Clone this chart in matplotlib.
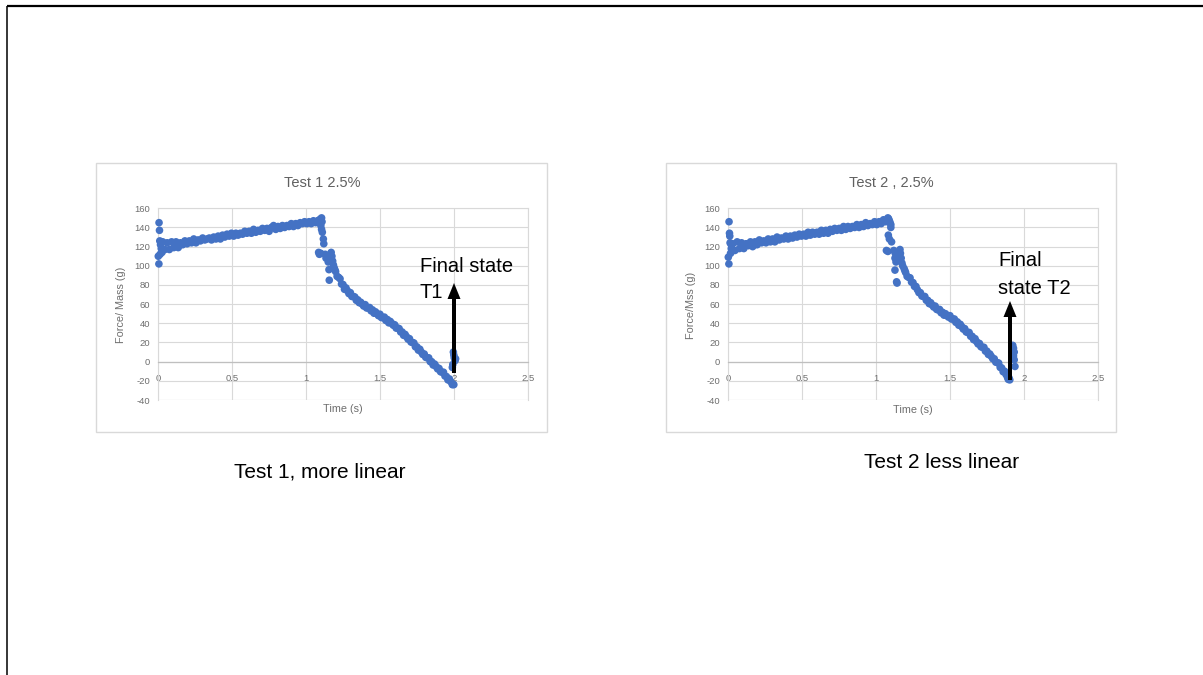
import matplotlib
matplotlib.use("Agg")
import matplotlib.pyplot as plt
from matplotlib.patches import Rectangle, FancyArrow

plt.rcParams["font.family"] = ["Liberation Sans", "DejaVu Sans"]
plt.rcParams["axes.unicode_minus"] = False

# ---------------- data ----------------
test1_time = [
    0.0, 0.004, 0.005, 0.008, 0.01, 0.012, 0.015, 0.02, 0.02, 0.025,
    0.030, 0.045, 0.060, 0.075, 0.090, 0.105, 0.120, 0.135, 0.150, 0.165,
    0.180, 0.195, 0.210, 0.225, 0.240, 0.255, 0.270, 0.285, 0.300, 0.315,
    0.330, 0.345, 0.360, 0.375, 0.390, 0.405, 0.420, 0.435, 0.450, 0.465,
    0.480, 0.495, 0.510, 0.525, 0.540, 0.555, 0.570, 0.585, 0.600, 0.615,
    0.630, 0.645, 0.660, 0.675, 0.690, 0.705, 0.720, 0.735, 0.750, 0.765,
    0.780, 0.795, 0.810, 0.825, 0.840, 0.855, 0.870, 0.885, 0.900, 0.915,
    0.930, 0.945, 0.960, 0.975, 0.990, 1.005, 1.020, 1.035, 1.050, 1.065,
    1.080,
    1.085, 1.09, 1.095, 1.10, 1.105, 1.108, 1.10, 1.105, 1.11, 1.085,
    1.09, 1.10, 1.117, 1.12, 1.13, 1.135, 1.14, 1.15, 1.155, 1.157,
    1.16, 1.17, 1.175, 1.18, 1.185, 1.19, 1.195,
    1.20, 1.21, 1.22, 1.23, 1.24, 1.25, 1.26, 1.27, 1.28, 1.29,
    1.30, 1.31, 1.32, 1.33, 1.34, 1.35, 1.36, 1.37, 1.38, 1.39,
    1.40, 1.41, 1.42, 1.43, 1.44, 1.45, 1.46, 1.47, 1.48, 1.49,
    1.50, 1.51, 1.52, 1.53, 1.54, 1.55, 1.56, 1.57, 1.58, 1.59,
    1.60, 1.61, 1.62, 1.63, 1.64, 1.65, 1.66, 1.67, 1.68, 1.69,
    1.70, 1.71, 1.72, 1.73, 1.74, 1.75, 1.76, 1.77, 1.78, 1.79,
    1.80, 1.81, 1.82, 1.83, 1.84, 1.85, 1.86, 1.87, 1.88, 1.89,
    1.90, 1.91, 1.92, 1.93, 1.94, 1.95, 1.96, 1.97, 1.98, 1.99,
    1.995, 2.0, 1.99, 1.993, 1.997, 2.0, 2.003, 2.008, 2.012,
]
test1_force = [
    110, 102, 145, 137, 126, 112, 122, 118, 125, 114,
    125, 117, 124, 117, 125, 119, 125, 119, 124, 122,
    126, 123, 126, 124, 128, 124, 127, 126, 129, 127,
    128, 129, 127, 130, 128, 131, 128, 132, 130, 133,
    131, 134, 131, 134, 132, 134, 133, 136, 134, 136,
    134, 138, 135, 137, 136, 139, 137, 139, 136, 140,
    142, 138, 141, 139, 142, 140, 142, 141, 144, 141,
    144, 142, 145, 144, 146, 144, 146, 144, 147, 145,
    147,
    147, 148, 147, 149, 150, 146, 142, 138, 135, 114,
    112, 113, 128, 123, 112, 108, 110, 104, 96, 85,
    108, 114, 110, 105, 101, 98, 96,
    94, 89, 88, 86.5, 81, 80.5, 75.5, 77, 74, 71,
    72, 68, 68, 67.5, 64, 64.5, 61.5, 62, 60, 58,
    59.5, 56, 56, 56.5, 53, 54, 50.5, 52, 50, 48,
    49.5, 46, 46, 46.5, 43, 44, 40.5, 42, 40, 38,
    38.5, 35, 35, 34.5, 31, 31, 27.5, 28.5, 26, 23.5,
    24, 20.5, 20, 19.5, 15.5, 15.5, 12, 13, 10, 7.5,
    8, 4.5, 4, 4, 0, 0, -3.5, -2.5, -5, -7.5,
    -7, -10.5, -11, -11, -15, -15.5, -19, -18, -21, -24,
    -23.5, -24, -6, -3, 10, 7, 4, 1, 3,
]

test2_time = [
    0.0, 0.004, 0.005, 0.008, 0.01, 0.012, 0.015, 0.02, 0.02, 0.025,
    0.030, 0.045, 0.060, 0.075, 0.090, 0.105, 0.120, 0.135, 0.150, 0.165,
    0.180, 0.195, 0.210, 0.225, 0.240, 0.255, 0.270, 0.285, 0.300, 0.315,
    0.330, 0.345, 0.360, 0.375, 0.390, 0.405, 0.420, 0.435, 0.450, 0.465,
    0.480, 0.495, 0.510, 0.525, 0.540, 0.555, 0.570, 0.585, 0.600, 0.615,
    0.630, 0.645, 0.660, 0.675, 0.690, 0.705, 0.720, 0.735, 0.750, 0.765,
    0.780, 0.795, 0.810, 0.825, 0.840, 0.855, 0.870, 0.885, 0.900, 0.915,
    0.930, 0.945, 0.960, 0.975, 0.990, 1.005, 1.020, 1.035, 1.050, 1.065,
    1.075, 1.08, 1.085, 1.09, 1.095, 1.10, 1.10, 1.083, 1.09, 1.105,
    1.07, 1.08, 1.12, 1.13, 1.128, 1.135, 1.14, 1.15, 1.162, 1.165,
    1.17, 1.175, 1.128, 1.139, 1.142, 1.18, 1.19, 1.195,
    1.20, 1.21, 1.22, 1.23, 1.24, 1.25, 1.26, 1.27, 1.28, 1.29,
    1.30, 1.31, 1.32, 1.33, 1.34, 1.35, 1.36, 1.37, 1.38, 1.39,
    1.40, 1.41, 1.42, 1.43, 1.44, 1.45, 1.46, 1.47, 1.48, 1.49,
    1.50, 1.51, 1.52, 1.53, 1.54, 1.55, 1.56, 1.57, 1.58, 1.59,
    1.60, 1.61, 1.62, 1.63, 1.64, 1.65, 1.66, 1.67, 1.68, 1.69,
    1.70, 1.71, 1.72, 1.73, 1.74, 1.75, 1.76, 1.77, 1.78, 1.79,
    1.80, 1.81, 1.82, 1.83, 1.84, 1.85, 1.86, 1.87, 1.88, 1.89,
    1.90, 1.905, 1.895,
    1.925, 1.93, 1.935, 1.93, 1.935, 1.94,
]
test2_force = [
    109, 102, 146, 134, 131, 124, 113, 118, 122, 116,
    123, 116, 125, 118, 124, 118, 123, 121, 125, 120,
    125, 122, 127, 124, 126, 124, 128, 125, 128, 125,
    130, 127, 129, 128, 131, 128, 131, 129, 132, 130,
    133, 131, 133, 131, 135, 132, 135, 133, 135, 133,
    137, 134, 137, 134, 138, 136, 139, 137, 139, 137,
    141, 138, 141, 139, 141, 140, 143, 140, 143, 141,
    145, 142, 144, 143, 146, 143, 146, 144, 148, 146,
    148, 150, 149, 147, 145, 143, 140, 132, 128, 125,
    116, 115, 116, 113, 108, 104, 110, 112, 117, 113,
    108, 103, 95.5, 83.3, 82, 100, 97, 95,
    93, 89, 88, 87.5, 83, 82.5, 78.5, 78.5, 75, 72,
    72, 68.5, 68, 68, 64, 64, 60.5, 61.5, 59, 57,
    58, 54.5, 54, 54.5, 51, 51.5, 48.5, 50, 48, 46.5,
    48, 44.5, 44.5, 44.5, 41, 41.5, 38, 39, 36.5, 34,
    34.5, 31, 30.5, 30.5, 26.5, 26.5, 23, 24, 21, 18.5,
    19, 15.5, 15, 15, 11, 11, 7.5, 8, 5.5, 3,
    3, -0.5, -1, -1.5, -6, -6.5, -10.5, -10, -13.5, -16.5,
    -17, -19, -18.5,
    17, 14, 10, 6, 2, -5,
]

x_ticks = [0, 0.5, 1, 1.5, 2, 2.5]
x_tick_labels = ["0", "0.5", "1", "1.5", "2", "2.5"]
y_ticks = [-40, -20, 0, 20, 40, 60, 80, 100, 120, 140, 160]

chart_titles = ["Test 1 2.5%", "Test 2 , 2.5%"]
y_titles = ["Force/ Mass (g)", "Force/Mss (g)"]
x_title = "Time (s)"
captions = ["Test 1, more linear", "Test 2 less linear"]
notes = [["Final state", "T1"], ["Final", "state T2"]]

# ---------------- layout (pixels) ----------------
W, H = 1203, 675
BLUE = "#4472C4"
GRID = "#D9D9D9"
GREY_TXT = "#6E6E6E"

fig = plt.figure(figsize=(W / 100, H / 100), dpi=100)
fig.patch.set_facecolor("white")


def px_axes(x0, y0, x1, y1, **kw):
    return fig.add_axes([x0 / W, 1 - y1 / H, (x1 - x0) / W, (y1 - y0) / H], **kw)


charts = [
    dict(plot=(158.3, 208.3, 527.7, 400.0), frame=(96, 163, 547, 432),
         title_xy=(322, 183), ytitle_xy=(121, 305), xtitle_xy=(343, 409),
         data=(test1_time, test1_force)),
    dict(plot=(728.3, 208.3, 1097.7, 400.0), frame=(666, 163, 1116, 432),
         title_xy=(891, 183), ytitle_xy=(691, 305), xtitle_xy=(913, 410),
         data=(test2_time, test2_force)),
]

for ch in charts:
    ax = px_axes(*ch["plot"])
    ax.set_xlim(0, 2.5)
    ax.set_ylim(-40, 160)
    ax.set_xticks(x_ticks)
    ax.set_xticklabels(x_tick_labels)
    ax.set_yticks(y_ticks)
    ax.grid(True, color=GRID, lw=0.8)
    ax.set_axisbelow(True)
    for side in ("top", "right", "left"):
        ax.spines[side].set_color(GRID)
        ax.spines[side].set_linewidth(0.8)
    ax.spines["bottom"].set_position(("data", 0))
    ax.spines["bottom"].set_color("#BFBFBF")
    ax.spines["bottom"].set_linewidth(0.9)
    ax.axhline(-40, color=GRID, lw=0.8, zorder=0)
    ax.tick_params(axis="both", length=0, labelsize=6.8, labelcolor=GREY_TXT)
    ax.tick_params(axis="y", pad=6)
    ax.tick_params(axis="x", pad=9)
    t, f = ch["data"]
    ax.scatter(t, f, s=30, color=BLUE, edgecolors="none", zorder=3, clip_on=False)

# slide-level overlay (pixel coordinates, y downwards)
ov = fig.add_axes([0, 0, 1, 1], zorder=10)
ov.set_xlim(0, W)
ov.set_ylim(H, 0)
ov.axis("off")
ov.patch.set_alpha(0)

# slide border
ov.plot([7, W], [6, 6], color="black", lw=1.6, solid_capstyle="butt")
ov.plot([7, 7], [6, H], color="black", lw=1.1, solid_capstyle="butt")

for i, ch in enumerate(charts):
    x0, y0, x1, y1 = ch["frame"]
    ov.add_patch(Rectangle((x0, y0), x1 - x0, y1 - y0, fill=False,
                           edgecolor=GRID, lw=1.0))
    ov.text(*ch["title_xy"], chart_titles[i], ha="center", va="center",
            fontsize=10.5, color="#606060")
    ov.text(*ch["ytitle_xy"], y_titles[i], ha="center", va="center",
            rotation=90, fontsize=7.8, color=GREY_TXT)
    ov.text(*ch["xtitle_xy"], x_title, ha="center", va="center",
            fontsize=7.8, color=GREY_TXT)

# annotations
note_pos = [((420, 266), (420, 293)), ((998, 260), (998, 288))]
for lines, pos in zip(notes, note_pos):
    for txt, (x, y) in zip(lines, pos):
        ov.text(x, y, txt, ha="left", va="center", fontsize=14.5, color="black")

arrows = [(454, 373, 283), (1010, 380, 301)]
for x, yb, yt in arrows:
    ov.add_patch(FancyArrow(x, yb, 0, yt - yb, width=4, head_width=13,
                            head_length=16, length_includes_head=True,
                            color="black", lw=0))

caption_pos = [(320, 472), (942, 463)]
for txt, (x, y) in zip(captions, caption_pos):
    ov.text(x, y, txt, ha="center", va="center", fontsize=15, color="black")

fig.savefig("out.png", dpi=100, facecolor="white")
